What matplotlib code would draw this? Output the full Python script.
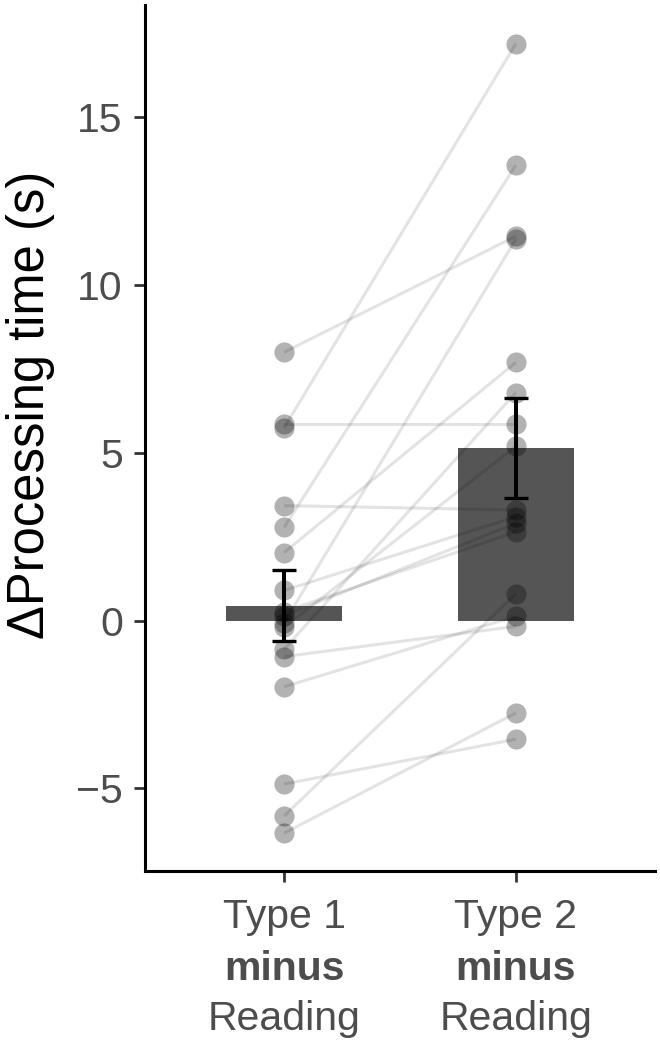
import matplotlib
matplotlib.use("Agg")
import matplotlib.pyplot as plt
import numpy as np

plt.rcParams['font.family'] = ['Liberation Sans', 'DejaVu Sans']

# ---- data ----
categories = ["Type 1", "Type 2"]
type1_minus_reading = [8.0, 5.85, 5.75, 3.43, 2.78, 2.03, 0.9, 0.27, 0.15,
                       -0.06, -0.2, -0.85, -1.07, -1.97, -4.87, -5.82, -6.33]
type2_minus_reading = [11.46, 5.85, 17.2, 3.3, 13.58, 7.7, 3.1, 2.65, 2.9,
                       11.37, 5.2, 6.8, -0.17, 0.13, -3.53, 0.8, -2.75]
bar_means = [0.45, 5.16]
bar_se = [1.05, 1.49]
yticks = [-5, 0, 5, 10, 15]

# ---- figure ----
fig = plt.figure(figsize=(6.6, 10.48), dpi=100)
ax = fig.add_axes([145/660, 177/1048, 510/660, 866/1048])

xpos = np.arange(1, len(categories) + 1)

ax.bar(xpos, bar_means, width=0.5, color="#555555", zorder=1)

n = len(type1_minus_reading)
ax.scatter(np.full(n, xpos[0]), type1_minus_reading, s=210, color="black",
           alpha=0.3, linewidths=0, zorder=2)
ax.scatter(np.full(n, xpos[1]), type2_minus_reading, s=210, color="black",
           alpha=0.3, linewidths=0, zorder=2)
for a, b in zip(type1_minus_reading, type2_minus_reading):
    ax.plot([xpos[0], xpos[1]], [a, b], color="black", alpha=0.11, lw=2.2,
            solid_capstyle="butt", zorder=3)

ax.errorbar(xpos, bar_means, yerr=bar_se, fmt="none", ecolor="black",
            elinewidth=2.9, capsize=8.8, capthick=2.4, zorder=4)

ax.set_xlim(0.4, 2.6)
ax.set_ylim(-7.46, 18.35)
ax.set_yticks(yticks)
ax.set_yticklabels(["\u22125" if t < 0 else str(t) for t in yticks])
ax.set_xticks(xpos)
ax.set_xticklabels(["", ""])

for s in ["top", "right"]:
    ax.spines[s].set_visible(False)
for s in ["left", "bottom"]:
    ax.spines[s].set_linewidth(2.2)
    ax.spines[s].set_color("black")

ax.tick_params(axis="both", length=8, width=2.0, color="#333333",
               labelcolor="#4D4D4D", labelsize=29.5)
ax.tick_params(axis="y", pad=8)

for x, c in zip(xpos, categories):
    ax.annotate(c, xy=(x, 0), xycoords=("data", "axes fraction"),
                xytext=(0, -41), textcoords="offset points",
                ha="center", va="baseline", fontsize=29.5, color="#4D4D4D")
    ax.annotate("minus", xy=(x, 0), xycoords=("data", "axes fraction"),
                xytext=(0, -78.5), textcoords="offset points",
                ha="center", va="baseline", fontsize=29.5, color="#4D4D4D",
                fontweight="bold")
    ax.annotate("Reading", xy=(x, 0), xycoords=("data", "axes fraction"),
                xytext=(0, -114.5), textcoords="offset points",
                ha="center", va="baseline", fontsize=29.5, color="#4D4D4D")

fig.text(31/660, 1 - 405/1048, "\u0394Processing time (s)", rotation=90,
         ha="center", va="center", fontsize=36.5, color="black")

fig.savefig("out.png", dpi=100, facecolor="white")
